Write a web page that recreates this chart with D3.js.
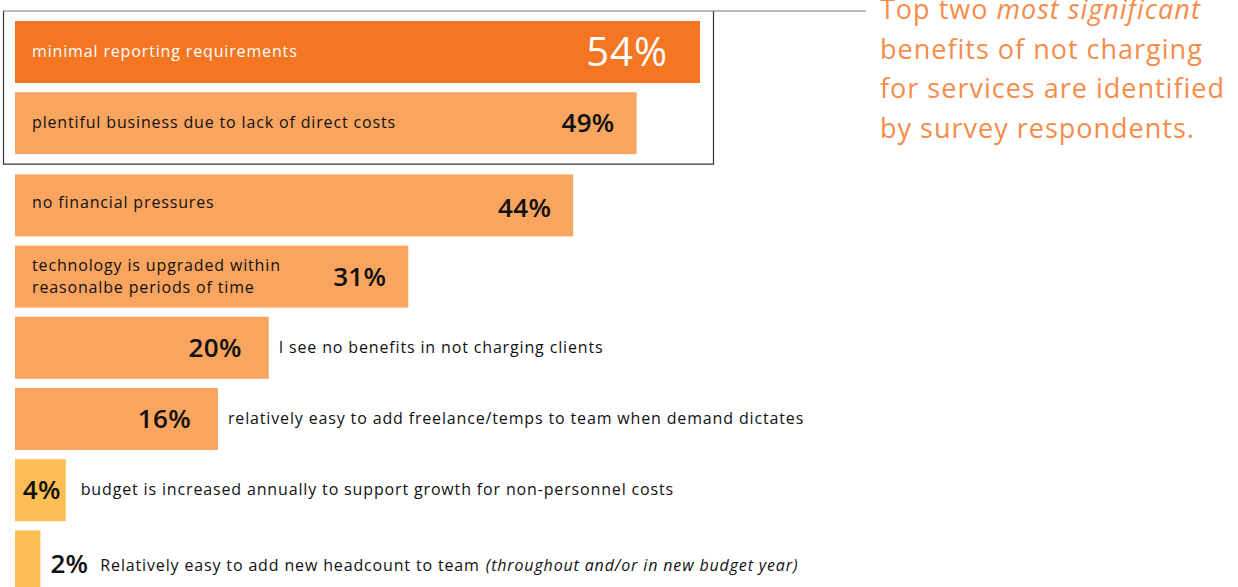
<!DOCTYPE html>
<html><head><meta charset="utf-8">
<script src="https://cdn.jsdelivr.net/npm/d3@7"></script>
<style>
html,body{margin:0;padding:0;background:#fff;}
svg{display:block;font-family:"Open Sans",sans-serif;}
</style></head>
<body><svg id="c" width="1238" height="587"></svg>
<script>
const categories = [
  "minimal reporting requirements",
  "plentiful business due to lack of direct costs",
  "no financial pressures",
  "technology is upgraded within|reasonalbe periods of time",
  "I see no benefits in not charging clients",
  "relatively easy to add freelance/temps to team when demand dictates",
  "budget is increased annually to support growth for non-personnel costs",
  "Relatively easy to add new headcount to team"
];
const categoryNotes = ["", "", "", "", "", "", "", "(throughout and/or in new budget year)"];
const values = [54, 49, 44, 31, 20, 16, 4, 2];
const annotationLines = [
  [["Top two ", "normal"], ["most significant", "italic"]],
  [["benefits of not charging", "normal"]],
  [["for services are identified", "normal"]],
  [["by survey respondents.", "normal"]]
];

const svg = d3.select("#c");
const x = d3.scaleLinear().domain([0, 54]).range([15, 700]);
const yIdx = d3.scaleLinear().domain([0, 1]).range([21, 92.2]);
const yPos = i => yIdx(i) + (i >= 2 ? 11 : 0);
const h = 62;

function barColor(i, v) {
  if (i === 0) return "#F47622";
  if (v < 10) return "#FDBE55";
  return "#F9A45F";
}

svg.selectAll("rect.bar").data(values).join("rect")
  .attr("class", "bar")
  .attr("x", x(0))
  .attr("y", (d, i) => yPos(i))
  .attr("width", d => x(d) - x(0))
  .attr("height", h)
  .attr("fill", (d, i) => barColor(i, d));

// highlight box
const boxTop = yPos(0) - 10, boxBot = yPos(1) + h + 10;
svg.append("path")
  .attr("d", `M3.5,${boxTop}V${boxBot}H713.5V${boxTop}`)
  .attr("fill", "none").attr("stroke", "#333").attr("stroke-width", 1.2);
svg.append("line").attr("x1", 3).attr("x2", 866).attr("y1", boxTop).attr("y2", boxTop)
  .attr("stroke", "#777").attr("stroke-width", 1.2);

const labelFont = 16, labelSpacing = 0.85;

values.forEach((v, i) => {
  const cy = yPos(i) + h / 2;
  const inside = v >= 30;
  const big = i === 0;
  let vx;
  if (big) vx = x(v) - 32;
  else if (inside) vx = x(v) - 22;
  else if (v >= 10) vx = x(v) - 27;
  else if (v >= 3) vx = x(v) - 5;
  else vx = x(v) + 48;
  svg.append("text")
    .attr("x", vx).attr("y", cy + (big ? 14 : 9) + (i === 2 ? 3 : 0) + (i === 7 ? 3 : 0))
    .attr("text-anchor", "end")
    .attr("font-size", big ? 40 : 26)
    .attr("font-weight", big ? 500 : 600)
    .attr("letter-spacing", big ? 1 : 0.3)
    .attr("fill", big ? "#fff" : "#111")
    .text(v + "%");
  const lines = categories[i].split("|");
  let lx;
  if (inside) lx = 32;
  else if (v >= 10) lx = x(v) + 10;
  else if (v >= 3) lx = x(v) + 15;
  else lx = x(v) + 60;
  const t = svg.append("text")
    .attr("x", lx)
    .attr("font-size", labelFont)
    .attr("font-weight", 500)
    .attr("letter-spacing", labelSpacing)
    .attr("fill", big ? "#fff" : "#111");
  const baseY = cy + 5 - (lines.length - 1) * 11 + (i === 2 ? -2 : 0) + (i === 7 ? 5 : 0);
  lines.forEach((ln, k) => {
    t.append("tspan").attr("x", lx).attr("y", baseY + k * 22).text(ln);
  });
  if (categoryNotes[i]) {
    t.append("tspan").attr("font-style", "italic").attr("font-weight", 400).attr("dx", 6).text(categoryNotes[i]);
  }
});

// annotation
const ann = svg.append("text").attr("font-size", 27).attr("font-weight", 500)
  .attr("fill", "#F58C4A").attr("letter-spacing", 1);
annotationLines.forEach((parts, k) => {
  const base = ann.append("tspan").attr("x", 880).attr("y", 19 + k * 39.6);
  parts.forEach((p, j) => {
    (j === 0 ? base : ann.append("tspan")).attr("font-style", p[1]).text(p[0]);
  });
});
</script>
</body></html>
